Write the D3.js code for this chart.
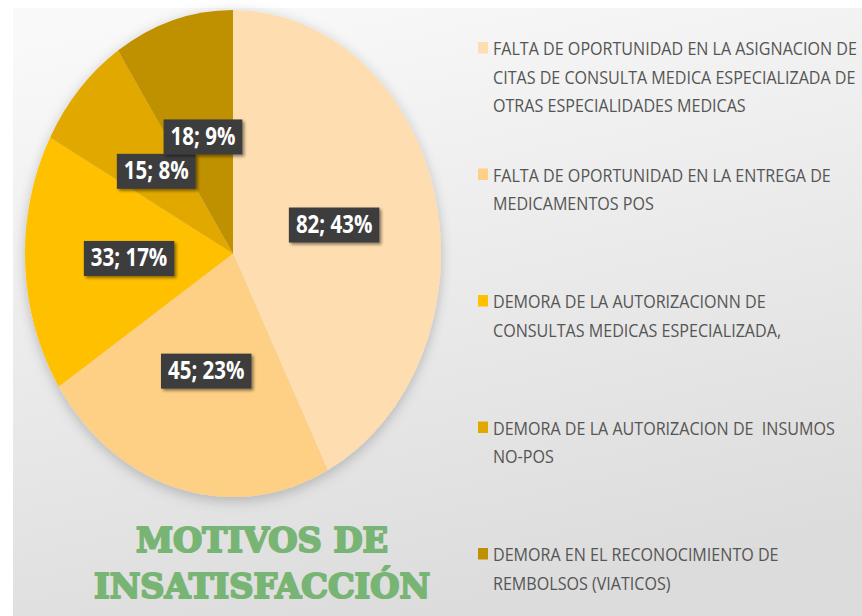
<!DOCTYPE html>
<html>
<head>
<meta charset="utf-8">
<script src="https://cdn.jsdelivr.net/npm/d3@7"></script>
<style>
  body { margin: 0; background: #fff; }
  svg { display: block; }
</style>
</head>
<body>
<svg id="chart" width="862" height="616"></svg>
<script>
// data
var categories = [
    "FALTA DE OPORTUNIDAD EN LA ASIGNACION DE CITAS DE CONSULTA MEDICA ESPECIALIZADA DE OTRAS ESPECIALIDADES MEDICAS",
    "FALTA DE OPORTUNIDAD EN LA ENTREGA DE MEDICAMENTOS POS",
    "DEMORA DE LA AUTORIZACIONN DE CONSULTAS MEDICAS ESPECIALIZADA,",
    "DEMORA DE LA AUTORIZACION DE  INSUMOS NO-POS",
    "DEMORA EN EL RECONOCIMIENTO DE REMBOLSOS (VIATICOS)"
];
var legendLines = [
    ["FALTA DE OPORTUNIDAD EN LA ASIGNACION DE", "CITAS DE CONSULTA MEDICA ESPECIALIZADA DE", "OTRAS ESPECIALIDADES MEDICAS"],
    ["FALTA DE OPORTUNIDAD EN LA ENTREGA DE", "MEDICAMENTOS POS"],
    ["DEMORA DE LA AUTORIZACIONN DE", "CONSULTAS MEDICAS ESPECIALIZADA,"],
    ["DEMORA DE LA AUTORIZACION DE  INSUMOS", "NO-POS"],
    ["DEMORA EN EL RECONOCIMIENTO DE", "REMBOLSOS (VIATICOS)"]
];
var values = [82, 45, 33, 15, 18];
var colors = ["#FEDDB0", "#FDD085", "#FFC000", "#E1A800", "#BF9000"];
var titleLines = ["MOTIVOS DE", "INSATISFACCIÓN"];

var svg = d3.select("#chart");
var W = 862, H = 616;

var defs = svg.append("defs");
var bg = defs.append("linearGradient").attr("id", "bg")
    .attr("x1", "0.2").attr("y1", "0").attr("x2", "0.5").attr("y2", "1");
bg.append("stop").attr("offset", "0").attr("stop-color", "#f9f9f9");
bg.append("stop").attr("offset", "1").attr("stop-color", "#dcdcdc");

var sh = defs.append("filter").attr("id", "pieShadow")
    .attr("x", "-20%").attr("y", "-20%").attr("width", "140%").attr("height", "140%");
sh.append("feDropShadow").attr("dx", 0).attr("dy", 3).attr("stdDeviation", 6)
    .attr("flood-color", "#000").attr("flood-opacity", 0.22);

var bs = defs.append("filter").attr("id", "boxShadow")
    .attr("x", "-20%").attr("y", "-30%").attr("width", "150%").attr("height", "170%");
bs.append("feDropShadow").attr("dx", 2).attr("dy", 2).attr("stdDeviation", 1.5)
    .attr("flood-color", "#000").attr("flood-opacity", 0.45);

svg.append("rect").attr("width", W).attr("height", H).attr("fill", "#fff");
svg.append("rect").attr("x", 13).attr("y", 8).attr("width", W - 13).attr("height", H - 8)
    .attr("fill", "url(#bg)");

// pie (a circle stretched vertically, like the picture)
var cx = 233, cy = 253.5, rx = 208, ry = 243.5;
var sy = ry / rx;

var pie = d3.pie().sort(null).value(function(d) { return d; });
var arcs = pie(values);
var arc = d3.arc().innerRadius(0).outerRadius(rx);
var total = d3.sum(values);

// percentages rounded so they add up to 100 (largest remainder, like excel)
var raw = values.map(function(v) { return v / total * 100; });
var pct = raw.map(Math.floor);
var left = 100 - d3.sum(pct);
d3.range(values.length)
    .sort(function(a, b) { return (raw[b] - pct[b]) - (raw[a] - pct[a]); })
    .slice(0, left)
    .forEach(function(k) { pct[k] += 1; });

var pieG = svg.append("g")
    .attr("transform", "translate(" + cx + "," + cy + ") scale(1," + sy + ")")
    .attr("filter", "url(#pieShadow)");

pieG.selectAll("path")
    .data(arcs)
    .enter().append("path")
    .attr("d", arc)
    .attr("fill", function(d, i) { return colors[i]; });

// data labels
var labG = svg.append("g");
arcs.forEach(function(d, i) {
    var c = arc.centroid(d);
    var x = cx + c[0], y = cy + c[1] * sy;
    var txt = values[i] + "; " + pct[i] + "%";
    var g = labG.append("g").attr("transform", "translate(" + x + "," + y + ")");
    var box = g.append("rect").attr("fill", "#3d3d3d").attr("filter", "url(#boxShadow)");
    var t = g.append("text")
        .attr("text-anchor", "middle")
        .attr("transform", "scale(1,1.2)")
        .attr("y", 6.5)
        .attr("font-family", "'Liberation Sans Narrow', 'Open Sans', sans-serif")
        .attr("font-weight", "bold")
        .attr("font-size", 20.5)
        .attr("fill", "#fff")
        .text(txt);
    var bb = t.node().getBBox();
    var bw = bb.width + 14;
    box.attr("x", -bw / 2).attr("y", -17.5).attr("width", bw).attr("height", 35);
});

// legend
var legY = d3.scaleLinear().domain([0, 4]).range([55, 561]);
var legG = svg.append("g");
legendLines.forEach(function(lines, i) {
    var y0 = legY(i);
    legG.append("rect")
        .attr("x", 478).attr("y", y0 - 13).attr("width", 10).attr("height", 11.5)
        .attr("fill", colors[i]);
    lines.forEach(function(s, j) {
        legG.append("text")
            .attr("transform", "translate(493," + (y0 + j * 28.5) + ") scale(1,1.18)")
            .attr("font-family", "'Open Sans', sans-serif")
            .attr("font-size", 16.1)
            .attr("fill", "#555")
            .attr("xml:space", "preserve")
            .text(s);
    });
});

// title
var titleG = svg.append("g");
var titleBase = [552, 598];
var titleWidth = [252, 336];
titleLines.forEach(function(s, j) {
    titleG.append("text")
        .attr("transform", "translate(262," + titleBase[j] + ") scale(1,1.17)")
        .attr("text-anchor", "middle")
        .attr("font-family", "'DejaVu Serif', serif")
        .attr("font-weight", "bold")
        .attr("font-size", 29)
        .attr("textLength", titleWidth[j])
        .attr("lengthAdjust", "spacingAndGlyphs")
        .attr("fill", "#78B574")
        .attr("stroke", "#78B574")
        .attr("stroke-width", 1.8)
        .attr("stroke-linejoin", "round")
        .text(s);
});
</script>
</body>
</html>
